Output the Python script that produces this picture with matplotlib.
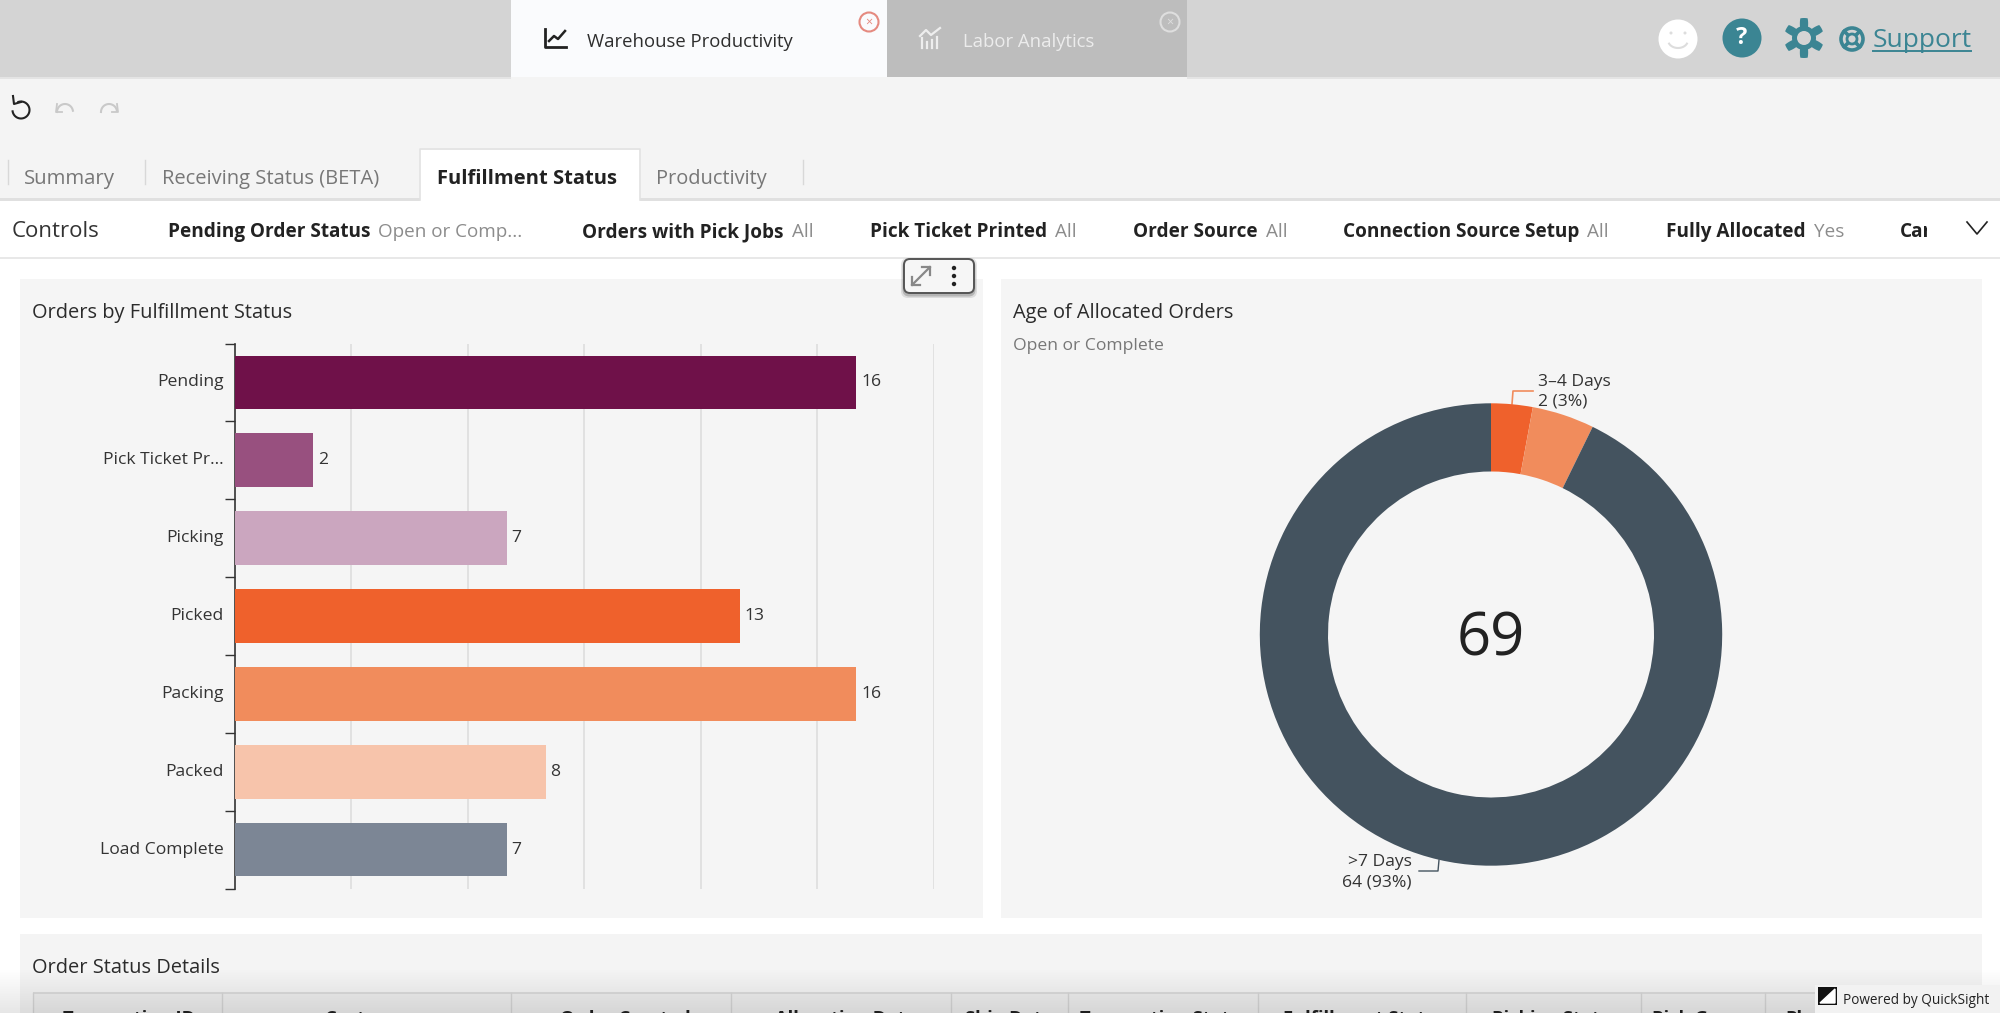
import numpy as np
import matplotlib
matplotlib.use("Agg")
import matplotlib.pyplot as plt
from matplotlib.patches import Rectangle, Circle, FancyBboxPatch, Polygon

W, H = 2000, 1013
categories = ["Pending", "Pick Ticket Pr...", "Picking", "Picked", "Packing", "Packed", "Load Complete"]
order_counts = [16, 2, 7, 13, 16, 8, 7]
bar_colors = ["#6f1149", "#98507f", "#cba6bf", "#ef612c", "#f18c5c", "#f7c4ab", "#7c8695"]
x_grid = [3, 6, 9, 12, 15, 18]
age_values = [2, 3, 64]
age_colors = ["#ef612c", "#f18c5c", "#44535f"]
age_total = 69
controls = [("Pending Order Status", "Open or Comp...", 168), ("Orders with Pick Jobs", "All", 582),
            ("Pick Ticket Printed", "All", 870), ("Order Source", "All", 1133),
            ("Connection Source Setup", "All", 1343), ("Fully Allocated", "Yes", 1666)]
sheet_tabs = [("Summary", 24, 14.7), ("Receiving Status (BETA)", 162, 14.5), ("Productivity", 656, 14.4)]
table_cols = [("Transaction ID", 63), ("Customer", 325), ("Order Created", 560), ("Allocation Date", 775),
              ("Ship Date", 965), ("Transaction Status", 1080), ("Fulfillment Status", 1283),
              ("Picking Status", 1492), ("Pick Group", 1652), ("Pla", 1785)]
table_seps = [33, 222, 511, 731, 951, 1068, 1258, 1466, 1641, 1765]

plt.rcParams["font.family"] = ["Open Sans", "DejaVu Sans"]
fig = plt.figure(figsize=(W / 100, H / 100), dpi=100, facecolor="white")

def axpx(x0, y0, x1, y1, **kw):
    return fig.add_axes([x0 / W, 1 - y1 / H, (x1 - x0) / W, (y1 - y0) / H], **kw)

bg = axpx(0, 0, W, H)
bg.set_xlim(0, W); bg.set_ylim(H, 0); bg.axis("off")

def rect(x0, y0, x1, y1, c, z=1, **kw):
    bg.add_patch(Rectangle((x0, y0), x1 - x0, y1 - y0, fc=c, ec="none", zorder=z, **kw))

def txt(x, y, s, size=14, c="#2b2b2b", w="normal", ha="left", va="center", z=5, **kw):
    return bg.text(x, y, s, fontsize=size, color=c, fontweight=w, ha=ha, va=va, zorder=z, **kw)

# chrome bands
rect(0, 0, W, 77, "#d4d4d4")
rect(0, 77, W, 199, "#f4f4f4")
rect(511, 0, 887, 77, "#fafbfd")
rect(887, 0, 1187, 77, "#bdbdbd")
rect(0, 77, 511, 78.5, "#e4e4e4", 2); rect(1187, 77, W, 78.5, "#e4e4e4", 2)
rect(0, 198, W, 200.5, "#e0e0e0", 2)
rect(420, 150, 640, 201, "white", 3)
bg.plot([420, 420, 640, 640], [200, 149, 149, 200], color="#e2e2e2", lw=1.2, zorder=4)
rect(0, 257, W, 259, "#e8e8e8", 2)

# top tabs
txt(587, 42, "Warehouse Productivity", 13.35, "#2e2e2e")
txt(963, 42, "Labor Analytics", 13.35, "#ececec")
bg.plot([545, 545, 566], [29, 47, 47], color="#222", lw=2, zorder=5)
bg.plot([549, 554, 558, 565], [41, 36, 39, 31], color="#222", lw=1.8, zorder=5)
for xx, yy in zip([922, 927, 932, 937], [38, 42, 40, 37]):
    bg.plot([xx, xx], [48, yy], color="#eeeeee", lw=1.6, zorder=5)
bg.plot([920, 926, 931, 940], [36, 30, 35, 28], color="#eeeeee", lw=1.6, zorder=5)
for cx, col in ((869, "#e58a80"), (1170, "#dedede")):
    bg.add_patch(Circle((cx, 22), 9.5, fc="none", ec=col, lw=1.5, zorder=5))
    txt(cx, 22, "×", 9, col, ha="center")

# right icons
bg.add_patch(Circle((1678, 39), 19.5, fc="white", ec="none", zorder=5))
bg.add_patch(Circle((1671, 33), 1.5, fc="#dddddd", ec="none", zorder=6))
bg.add_patch(Circle((1685, 33), 1.5, fc="#dddddd", ec="none", zorder=6))
t = np.linspace(np.pi * 0.15, np.pi * 0.85, 30)
bg.plot(1678 + 10 * np.cos(t), 40 + 8 * np.sin(t), color="#dddddd", lw=1.5, zorder=6)
teal = "#3b8593"
bg.add_patch(Circle((1742, 38), 19.5, fc=teal, ec="none", zorder=5))
txt(1742, 38, "?", 17, "white", "bold", ha="center")
ang = np.linspace(0, 2 * np.pi, 241)
rad = 16 + 4 * np.clip(2.2 * np.cos(6 * ang), -1, 1)
bg.add_patch(Polygon(np.c_[1804 + rad * np.sin(ang), 38 + rad * np.cos(ang)], closed=True, fc=teal, ec="none", zorder=5))
bg.add_patch(Circle((1804, 38), 7, fc="#d4d4d4", ec="none", zorder=6))
for a in (45, 135):
    dx, dy = 11 * np.cos(np.radians(a)), 11 * np.sin(np.radians(a))
    bg.plot([1852 - dx, 1852 + dx], [39 - dy, 39 + dy], color=teal, lw=2.6, zorder=5)
bg.add_patch(Circle((1852, 39), 11, fc="none", ec=teal, lw=2.6, zorder=5))
bg.add_patch(Circle((1852, 39), 5, fc="#d4d4d4", ec=teal, lw=2, zorder=6))
txt(1873, 40, "Support", 19, teal)
bg.plot([1873, 1971], [51, 51], color=teal, lw=1.4, zorder=5)

# undo row
t = np.linspace(-0.6 * np.pi, 0.95 * np.pi, 40)
bg.plot(21 + 8.5 * np.cos(t), 110 + 8.5 * np.sin(t), color="#222", lw=1.5, zorder=5)
bg.plot([13, 14, 21], [96, 104, 102], color="#222", lw=1.5, zorder=5)
for x0, sgn in ((65, 1), (109, -1)):
    t = np.linspace(np.pi * 1.0, np.pi * 1.95, 20)
    bg.plot(x0 + 8 * np.cos(t), 112 + 8 * np.sin(t), color="#c9c9c9", lw=1.5, zorder=5)
    bg.plot([x0 - 8 * sgn, x0 - 9 * sgn, x0 - 3 * sgn], [104, 112, 112], color="#c9c9c9", lw=1.3, zorder=5)

# sheet tabs
for s, x, sz in sheet_tabs:
    txt(x, 178.5, s, sz, "#777777")
txt(437, 178.5, "Fulfillment Status", 14.5, "#222222", "bold")
for x in (8, 145, 803):
    bg.plot([x, x], [160, 184], color="#d8d8d8", lw=1, zorder=4)

# controls
txt(12, 231, "Controls", 16, "#333333")
fg = fig.canvas.get_renderer()
for name, val, x in controls:
    t1 = txt(x, 232, name, 13.7, "#222222", "bold")
    ext = t1.get_window_extent(fg)
    txt(ext.x1 + 8, 232, val, 13.55, "#8c8c8c")
txt(1900, 232, "Car", 13.7, "#222222", "bold")
rect(1927, 215, 1960, 250, "white", 6)
bg.plot([1967, 1977, 1987], [222, 234, 222], color="#222", lw=1.2, zorder=7)

# panels
rect(20, 279, 983, 918, "#f5f5f5")
rect(1001, 279, 1982, 918, "#f5f5f5")
rect(20, 934, 1982, H, "#f4f4f4")
txt(32, 313, "Orders by Fulfillment Status", 14.45, "#2b2b2b")
txt(1013, 313, "Age of Allocated Orders", 14.45, "#2b2b2b")
txt(1013, 346, "Open or Complete", 12.6, "#777777")
txt(32, 968, "Order Status Details", 14.45, "#2b2b2b")

# table header
rect(33, 993, 1982, H, "#eeeeee", 2)
rect(33, 992, 1982, 994, "#dcdcdc", 2)
for x in table_seps:
    bg.plot([x, x], [993, H], color="#d6d6d6", lw=1, zorder=3)
for s, x in table_cols:
    txt(x, 1010, s, 13.2, "#222222", "bold", va="top", clip_on=True)

# bottom shade
img = np.zeros((100, 1, 4))
img[:, 0, 3] = np.linspace(0, 0.10, 100)
bg.imshow(img, extent=(0, W, H, 968), aspect="auto", zorder=8)
bg.set_xlim(0, W); bg.set_ylim(H, 0)

# QuickSight badge
rect(1815, 985, W, H, "#f2f2f2", 9)
rect(1818, 987, 1837, 1005, "#111111", 10)
bg.fill([1820, 1835, 1835], [1003, 989, 1003], color="white", zorder=11)
txt(1843, 1000, "Powered by QuickSight", 9.8, "#222222", z=11)

# expand / menu widget
for grow, a in ((3, 0.10), (1.5, 0.18)):
    bg.add_patch(FancyBboxPatch((904 - grow, 261 - grow), 70 + 2 * grow, 34 + 2 * grow,
                                boxstyle="round,pad=0,rounding_size=7", fc="black", ec="none", alpha=a, zorder=11))
bg.add_patch(FancyBboxPatch((904, 259), 70, 34, boxstyle="round,pad=0,rounding_size=6",
                            fc="#f6f6f6", ec="#555555", lw=1.4, zorder=12))
bg.plot([912, 930], [285, 267], color="#888", lw=1.6, zorder=13)
bg.plot([922, 930, 930], [267, 267, 275], color="#888", lw=1.6, zorder=13)
bg.plot([912, 912, 920], [277, 285, 285], color="#888", lw=1.6, zorder=13)
for yy in (268, 276, 284):
    bg.add_patch(Circle((954, yy), 2.2, fc="#222", ec="none", zorder=13))

# bar chart
ax = axpx(235, 343.5, 933.7, 888.5, facecolor="none")
y = np.arange(len(categories))
ax.barh(y, order_counts, height=0.69, color=bar_colors, zorder=3)
ax.set_xlim(0, 18); ax.set_ylim(len(categories) - 0.5, -0.5)
ax.set_xticks(x_grid); ax.tick_params(axis="x", length=0, labelbottom=False)
ax.grid(axis="x", color="#dddddd", lw=1.2, zorder=0)
ax.set_yticks(np.arange(-0.5, len(categories), 1), minor=False)
ax.set_yticklabels([])
ax.tick_params(axis="y", length=7, width=1, color="#333333", direction="out")
for s in ("top", "right", "bottom"):
    ax.spines[s].set_visible(False)
ax.spines["left"].set_color("#333333"); ax.spines["left"].set_linewidth(1.2)
for yi, (cat, v) in enumerate(zip(categories, order_counts)):
    ax.annotate(cat, (0, yi), xytext=(-11, 0), textcoords="offset pixels", ha="right", va="center",
                fontsize=12.6, color="#333333")
    ax.annotate(str(v), (v, yi), xytext=(5, 0), textcoords="offset pixels", ha="left", va="center",
                fontsize=12.6, color="#333333")

# donut
cx, cy, R = 1491, 634.5, 231.2
dn = axpx(cx - R, cy - R, cx + R, cy + R, facecolor="none")
dn.pie(age_values, colors=age_colors, startangle=90, counterclock=False, radius=1,
       wedgeprops=dict(width=0.295, linewidth=0))
dn.set_xlim(-1, 1); dn.set_ylim(-1, 1); dn.set_aspect("equal")
txt(cx, 639, str(age_total), 43, "#222222", ha="center", z=15)
txt(1538, 382, "3–4 Days", 12.6, "#333333", z=15)
txt(1538, 401, "2 (3%)", 12.6, "#333333", z=15)
bg.plot([1512, 1513, 1533], [404, 391, 391], color="#f18c5c", lw=1.2, zorder=15)
txt(1412, 862, ">7 Days", 12.6, "#333333", ha="right", z=15)
txt(1412, 882, "64 (93%)", 12.6, "#333333", ha="right", z=15)
bg.plot([1419, 1438, 1439], [871, 871, 860], color="#44535f", lw=1.0, zorder=15)

fig.savefig("out.png", dpi=100, facecolor="white")
